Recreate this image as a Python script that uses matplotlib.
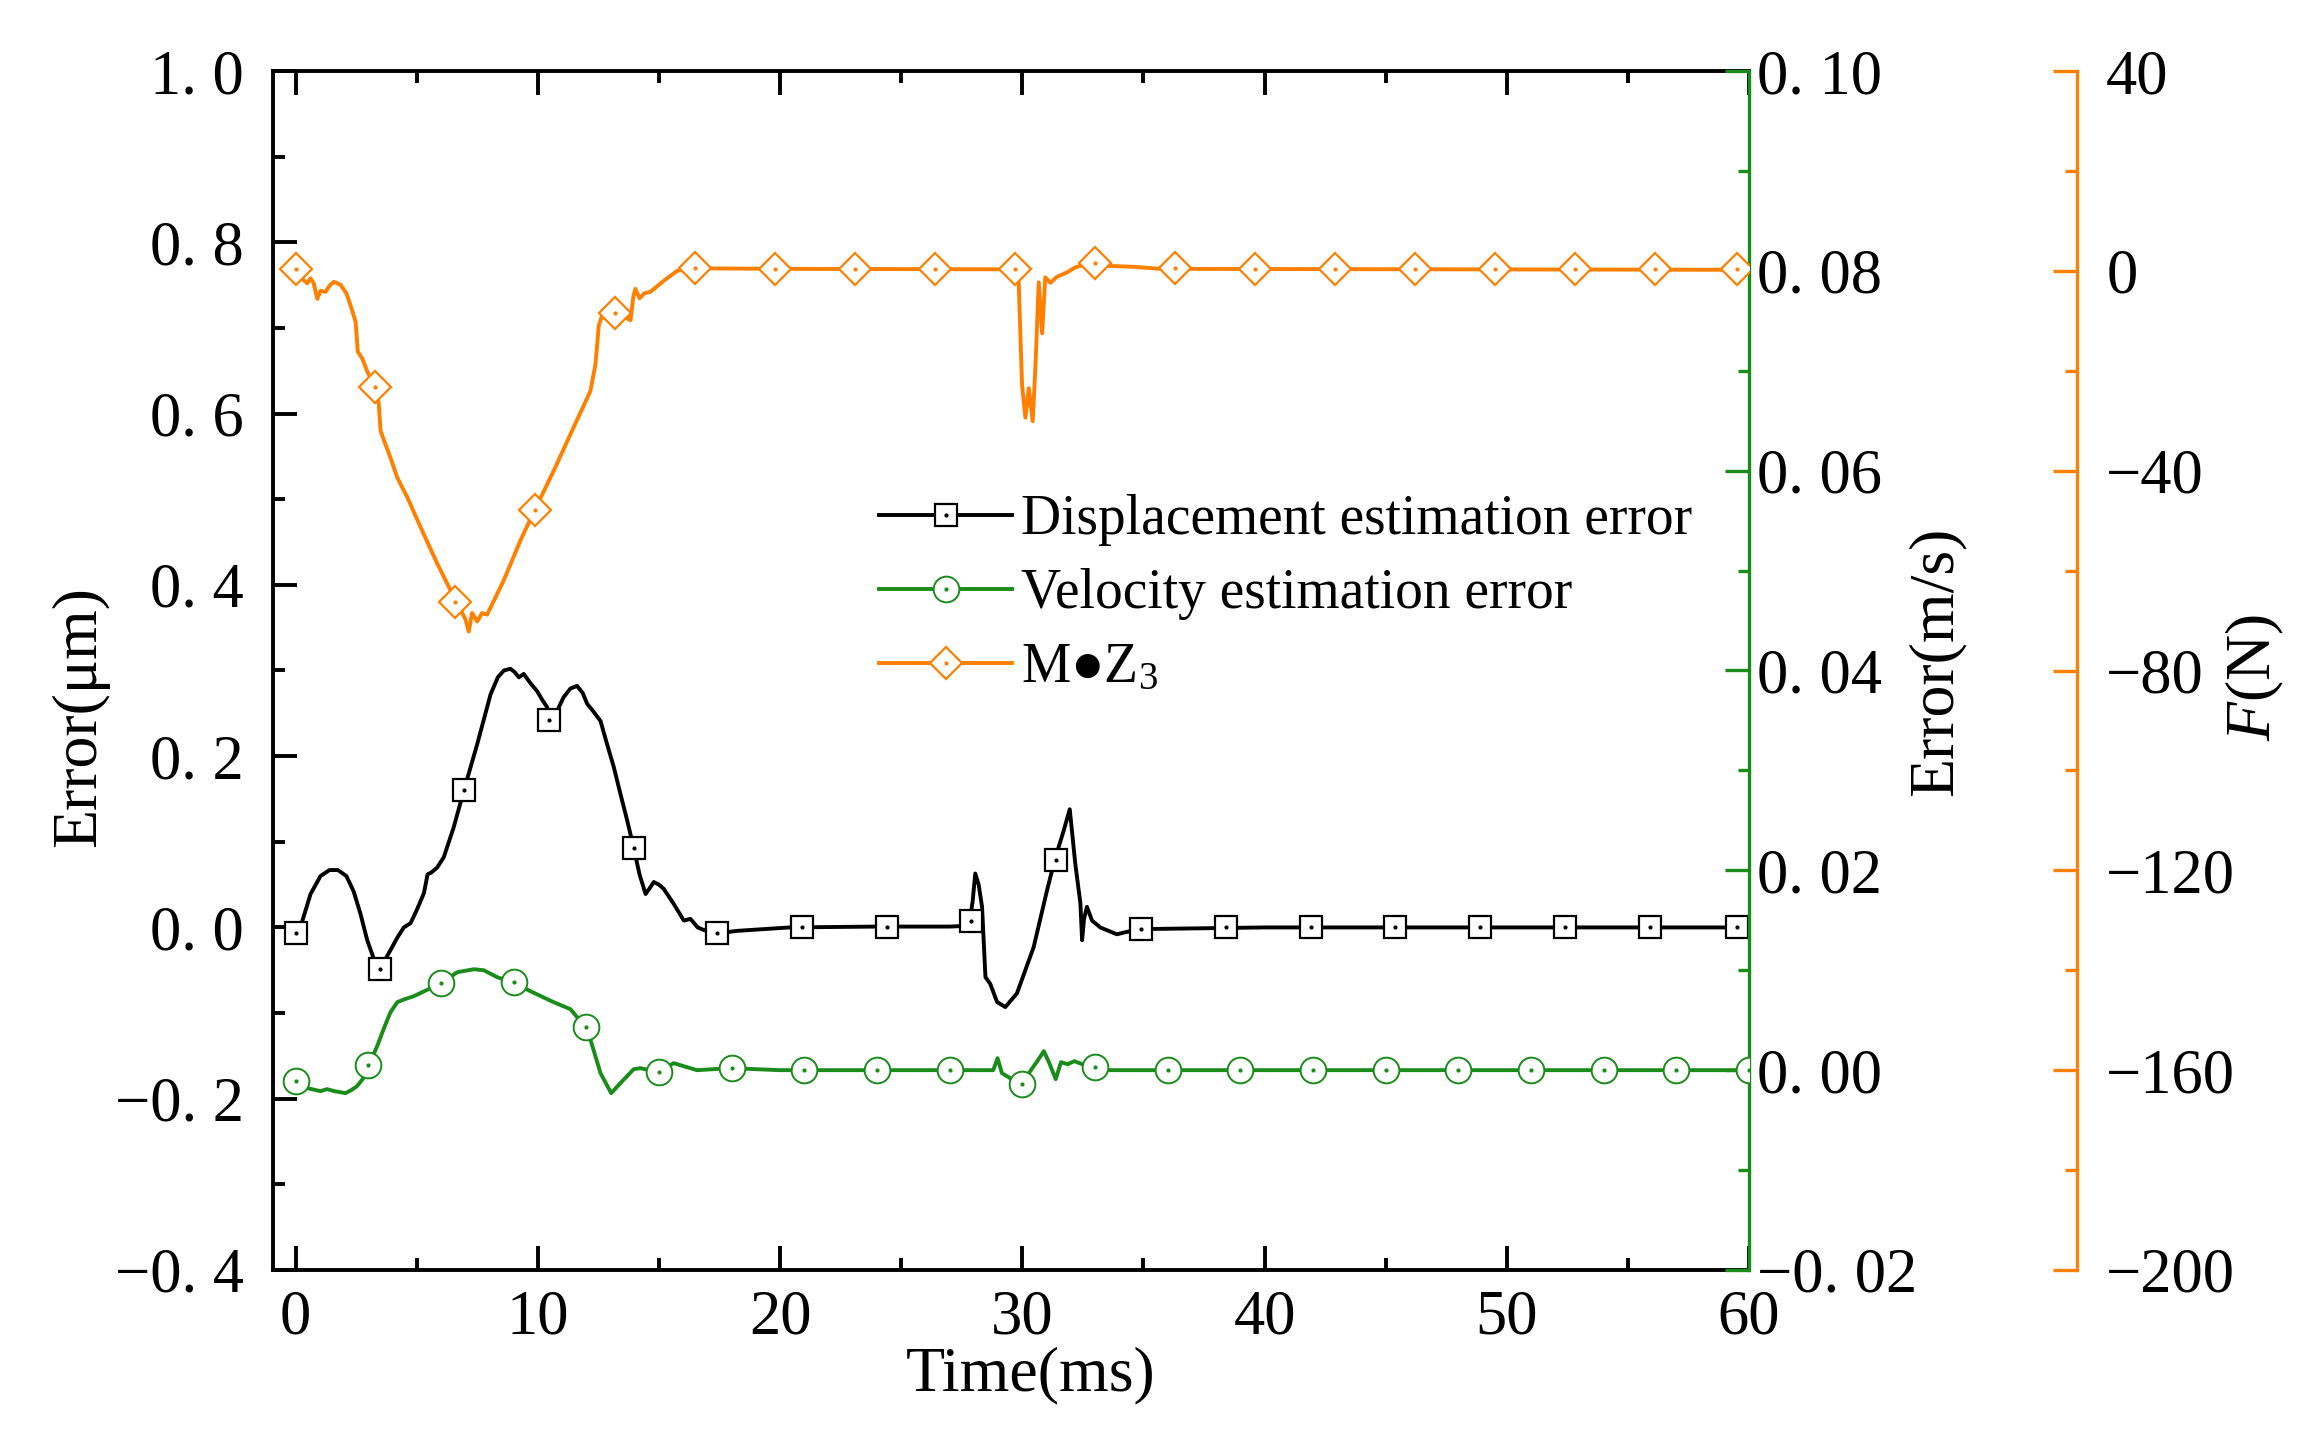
import numpy as np
import matplotlib.pyplot as plt
from matplotlib.ticker import MultipleLocator, FuncFormatter

plt.rcParams['font.family'] = ['Liberation Serif', 'DejaVu Serif']
plt.rcParams['mathtext.fontset'] = 'custom'
plt.rcParams['mathtext.rm'] = 'Liberation Serif'
plt.rcParams['mathtext.it'] = 'Liberation Serif:italic'

# displacement estimation error (um) -- left axis
disp_t = [0.0, 0.2, 0.62, 1.03, 1.4, 1.75, 2.1, 2.4, 2.68, 2.96, 3.25, 3.5, 3.75, 3.95,
          4.2, 4.47, 4.75, 5.0, 5.3, 5.45, 5.6, 5.85, 6.12, 6.53, 6.95, 7.5, 8.05, 8.35,
          8.6, 8.87, 9.05, 9.22, 9.42, 9.7, 9.97, 10.2, 10.39, 10.5, 10.75, 11.07, 11.35,
          11.62, 11.85, 12.04, 12.3, 12.59, 12.85, 13.14, 13.42, 13.69, 13.96, 14.2, 14.45,
          14.6, 14.79, 15.0, 15.2, 15.6, 16.03, 16.3, 16.6, 16.85, 17.4, 18.23, 20.4, 24.0,
          27.0, 27.8, 27.95, 28.06, 28.2, 28.34, 28.48, 28.68, 28.96, 29.3, 29.78, 30.1,
          30.47, 31.02, 31.34, 31.71, 31.96, 32.19, 32.4, 32.47, 32.55, 32.67, 32.88, 33.22,
          33.9, 34.8, 40.0, 50.0, 60.0]
disp_v = [-0.005, 0.0, 0.039, 0.06, 0.067, 0.067, 0.06, 0.042, 0.016, -0.015, -0.038, -0.046,
          -0.035, -0.025, -0.012, 0.0, 0.005, 0.02, 0.04, 0.062, 0.064, 0.07, 0.082, 0.117,
          0.16, 0.214, 0.272, 0.292, 0.30, 0.302, 0.298, 0.292, 0.296, 0.285, 0.276, 0.265,
          0.257, 0.243, 0.25, 0.269, 0.279, 0.282, 0.274, 0.261, 0.252, 0.241, 0.215, 0.187,
          0.155, 0.125, 0.093, 0.062, 0.039, 0.045, 0.053, 0.05, 0.045, 0.028, 0.008, 0.01,
          0.0, -0.003, -0.007, -0.004, 0.0, 0.001, 0.001, 0.002, 0.03, 0.063, 0.05, 0.024,
          -0.058, -0.066, -0.087, -0.093, -0.077, -0.052, -0.023, 0.043, 0.079, 0.113, 0.138,
          0.074, 0.028, -0.015, 0.01, 0.024, 0.008, 0.0, -0.008, -0.002, 0.0, 0.0, 0.0]
disp_mark_t = [0.0, 3.5, 6.95, 10.47, 13.96, 17.4, 20.9, 24.4, 27.9, 31.4, 34.9, 38.4,
               41.9, 45.4, 48.9, 52.4, 55.9, 59.5]
disp_mark_v = [-0.007, -0.048, 0.16, 0.242, 0.093, -0.007, 0.001, 0.001, 0.008, 0.079,
               -0.002, 0.0, 0.001, 0.001, 0.001, 0.001, 0.001, 0.001]

# velocity estimation error (m/s) -- green axis
vel_t = [0.0, 0.48, 1.03, 1.3, 1.6, 2.06, 2.3, 2.54, 2.8, 3.02, 3.37, 3.65, 3.92, 4.2, 4.5,
         4.88, 5.4, 6.01, 6.67, 7.36, 7.77, 8.33, 8.97, 9.7, 10.66, 11.35, 11.97, 12.17,
         12.59, 13.03, 13.41, 13.96, 14.24, 14.95, 15.61, 16.57, 17.95, 20.0, 28.8, 28.98,
         29.16, 29.5, 29.85, 30.27, 30.62, 30.89, 31.1, 31.38, 31.6, 31.87, 32.15, 32.8,
         33.5, 60.0]
vel_v = [-0.0011, -0.0018, -0.0021, -0.0019, -0.0021, -0.0023, -0.002, -0.0016, -0.0008,
         0.0005, 0.0024, 0.0042, 0.0058, 0.0068, 0.0071, 0.0074, 0.008, 0.0087, 0.0098,
         0.0101, 0.01, 0.0093, 0.0088, 0.0079, 0.0068, 0.0061, 0.0043, 0.0031, -0.0003,
         -0.0023, -0.0013, 0.0001, 0.0002, -0.0002, 0.0007, 0.0, 0.0002, 0.0, 0.0, 0.0012,
         -0.0003, -0.0008, -0.0014, -0.0003, 0.0009, 0.0019, 0.0008, -0.0009, 0.0008,
         0.0006, 0.0009, 0.0003, 0.0, 0.0]
vel_mark_t = [0, 3, 6, 9, 12, 15, 18, 21, 24, 27, 30, 33, 36, 39, 42, 45, 48, 51, 54, 57, 60]
vel_mark_v = [-0.0011, 0.0005, 0.0087, 0.0088, 0.0043, -0.0002, 0.0002, 0.0, 0.0, 0.0,
              -0.0014, 0.0003, 0.0, 0.0, 0.0, 0.0, 0.0, 0.0, 0.0, 0.0, 0.0]

# M*Z3 (N) -- orange axis
force_t = [0.0, 0.28, 0.48, 0.62, 0.75, 0.9, 1.03, 1.24, 1.4, 1.58, 1.86, 2.1, 2.27, 2.48,
           2.57, 2.75, 2.96, 3.15, 3.3, 3.44, 3.51, 3.71, 3.92, 4.2, 4.61, 5.16, 5.85, 6.63,
           7.02, 7.15, 7.29, 7.5, 7.7, 7.91, 8.6, 9.29, 9.88, 10.66, 11.35, 12.17, 12.38,
           12.52, 12.66, 13.14, 13.5, 13.83, 13.95, 14.03, 14.2, 14.4, 14.65, 15.2, 15.75,
           16.47, 20.0, 29.7, 29.85, 29.99, 30.13, 30.27, 30.43, 30.54, 30.68, 30.82, 30.95,
           31.16, 31.43, 31.85, 32.19, 32.85, 33.5, 34.6, 35.7, 60.0]
force_v = [0.3, -1.6, -2.5, -1.5, -2.5, -5.6, -4.0, -4.2, -3.0, -2.2, -2.8, -4.5, -6.9, -10.2,
           -16.2, -17.5, -20.1, -22.0, -23.3, -26.8, -32.0, -34.7, -37.4, -41.4, -45.3, -51.3,
           -58.6, -66.2, -69.8, -72.2, -68.5, -70.2, -68.5, -68.8, -61.9, -53.9, -47.8, -40.0,
           -32.7, -24.1, -18.8, -10.9, -8.9, -8.5, -9.0, -9.9, -5.0, -3.6, -5.5, -4.5, -4.2,
           -2.0, 0.0, 0.5, 0.4, 0.3, -1.9, -22.8, -29.4, -23.5, -30.1, -19.5, -2.3, -12.5,
           -1.3, -2.4, -1.2, -0.3, 0.7, 1.6, 1.0, 0.8, 0.4, 0.2]
force_mark_t = [0.0, 3.3, 6.6, 9.9, 13.2, 16.5, 19.8, 23.1, 26.4, 29.7, 33.0, 36.3, 39.6,
                42.9, 46.2, 49.5, 52.8, 56.1, 59.5]
force_mark_v = [0.3, -23.3, -66.2, -47.8, -8.5, 0.5, 0.3, 0.3, 0.3, 0.3, 1.6, 0.5, 0.3,
                0.3, 0.3, 0.3, 0.3, 0.3, 0.3]

labels = ['Displacement estimation error', 'Velocity estimation error',
          r'M●Z$_\mathregular{3}$']

GREEN = '#1a8c1a'
ORANGE = '#ff8000'
W, H = 2317, 1455

fig = plt.figure(figsize=(W / 100, H / 100), dpi=100)
ax = fig.add_axes([273 / W, 1 - 1270 / H, 1476 / W, 1199 / H])
axv = ax.twinx()
axf = ax.twinx()
axf.spines['right'].set_position(('axes', (2077 - 273) / 1476))

for s in ['left', 'top', 'bottom']:
    axv.spines[s].set_visible(False)
    axf.spines[s].set_visible(False)
ax.spines['right'].set_visible(False)
for s in ['left', 'top', 'bottom']:
    ax.spines[s].set_linewidth(2.8)
axv.spines['right'].set_color(GREEN)
axv.spines['right'].set_linewidth(2.4)
axf.spines['right'].set_color(ORANGE)
axf.spines['right'].set_linewidth(2.4)


def fmt1(v, pos):
    return ('%.1f' % v).replace('-', '\u2212').replace('.', '. ')


def fmt2(v, pos):
    return ('%.2f' % v).replace('-', '\u2212').replace('.', '. ')


def fmt_int(v, pos):
    return ('%d' % round(v)).replace('-', '\u2212')


ax.set_xlim(-0.93, 60)
ax.set_ylim(-0.4, 1.0)
axv.set_ylim(-0.02, 0.10)
axf.set_ylim(-200, 40)

ax.xaxis.set_major_locator(MultipleLocator(10))
ax.xaxis.set_minor_locator(MultipleLocator(5))
ax.yaxis.set_major_locator(MultipleLocator(0.2))
ax.yaxis.set_minor_locator(MultipleLocator(0.1))
ax.yaxis.set_major_formatter(FuncFormatter(fmt1))
ax.xaxis.set_major_formatter(FuncFormatter(fmt_int))
axv.yaxis.set_major_locator(MultipleLocator(0.02))
axv.yaxis.set_minor_locator(MultipleLocator(0.01))
axv.yaxis.set_major_formatter(FuncFormatter(fmt2))
axf.yaxis.set_major_locator(MultipleLocator(40))
axf.yaxis.set_minor_locator(MultipleLocator(20))
axf.yaxis.set_major_formatter(FuncFormatter(fmt_int))

ax.tick_params(which='major', direction='in', length=17, width=2.8, labelsize=45)
ax.tick_params(which='minor', direction='in', length=8.5, width=2.8)
ax.tick_params(axis='x', which='both', top=True, pad=14)
ax.tick_params(axis='y', which='both', right=False, pad=21)
axv.tick_params(axis='y', which='major', direction='in', length=17, width=2.4,
                color=GREEN, labelsize=45, pad=6)
axv.tick_params(axis='y', which='minor', direction='in', length=8, width=2.4, color=GREEN)
axf.tick_params(axis='y', which='major', direction='in', length=17, width=2.4,
                color=ORANGE, labelsize=45, pad=21)
axf.tick_params(axis='y', which='minor', direction='in', length=8.5, width=2.4, color=ORANGE)

# curves
LW = 2.8
l1, = ax.plot(disp_t, disp_v, color='black', lw=LW, zorder=2)
m1, = ax.plot(disp_mark_t, disp_mark_v, ls='none', marker='s', ms=16, mfc='white',
              mec='black', mew=1.6, zorder=3)
d1, = ax.plot(disp_mark_t, disp_mark_v, ls='none', marker='o', ms=2, color='black', zorder=4)

l2, = axv.plot(vel_t, vel_v, color=GREEN, lw=LW, zorder=2)
m2, = axv.plot(vel_mark_t, vel_mark_v, ls='none', marker='o', ms=18.5, mfc='white',
               mec=GREEN, mew=1.4, zorder=3)
d2, = axv.plot(vel_mark_t, vel_mark_v, ls='none', marker='o', ms=2, color=GREEN, zorder=4)

l3, = axf.plot(force_t, force_v, color=ORANGE, lw=LW, zorder=2)
m3, = axf.plot(force_mark_t, force_mark_v, ls='none', marker='D', ms=15.8, mfc='white',
               mec=ORANGE, mew=1.6, zorder=3)
d3, = axf.plot(force_mark_t, force_mark_v, ls='none', marker='o', ms=2, color=ORANGE, zorder=4)

fig.legend([(l1, m1, d1), (l2, m2, d2), (l3, m3, d3)], labels,
           loc='upper left', bbox_to_anchor=(879 / W, 1 - 494 / H), frameon=False,
           fontsize=40, handlelength=2.4, handletextpad=0.15, labelspacing=0.4,
           borderpad=0, borderaxespad=0)

# axis titles
fig.text(80 / W, 1 - 717 / H, 'Error(μm)', rotation=90, ha='center', va='center', fontsize=46)
fig.text(1031 / W, 1 - 1375 / H, 'Time(ms)', ha='center', va='center', fontsize=46)
fig.text(1937 / W, 1 - 661 / H, 'Error(m/s)', rotation=90, ha='center', va='center',
         fontsize=46)
fig.text(2255 / W, 1 - 677 / H, r'$F$(N)', rotation=90, ha='center', va='center', fontsize=46)

fig.savefig('out.png', dpi=100)
